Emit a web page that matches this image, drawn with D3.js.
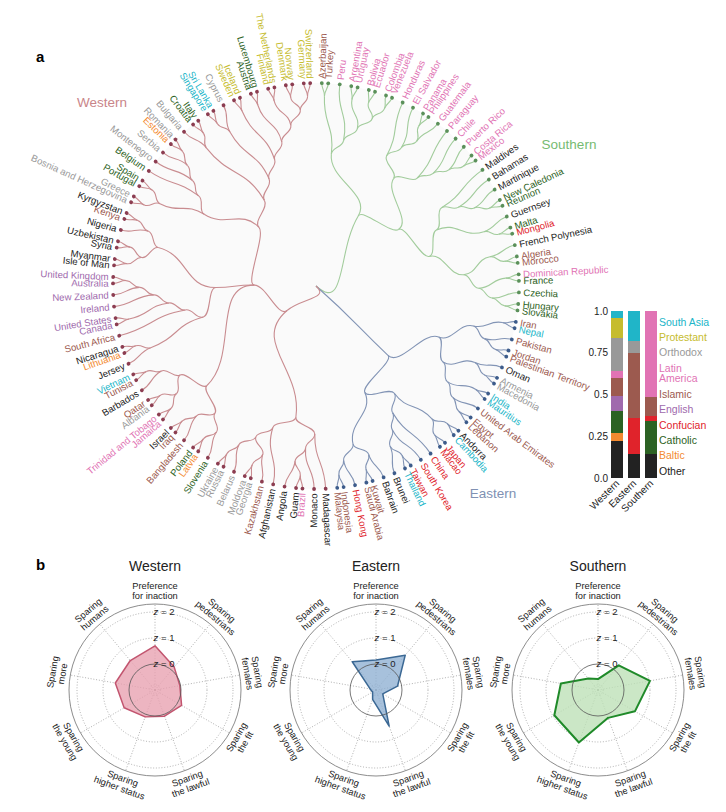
<!DOCTYPE html>
<html>
<head>
<meta charset="utf-8">
<script src="https://cdn.jsdelivr.net/npm/d3@7"></script>
<style>
  body { margin: 0; background: #fff; }
  svg text { font-family: "Liberation Sans", Arial, Helvetica, sans-serif; }
</style>
</head>
<body>
<svg id="chart" width="726" height="812"></svg>
<script>
// ---- dendrogram topology (clockwise leaf order) ----
var southernTree = [
    [["Azerbaijan", "Turkey"], ["Peru", [["Argentina", "Uruguay"], [["Bolivia", "Ecuador"], ["Colombia", "Venezuela"]]]]],
    [
        [["Honduras", ["El Salvador", [["Panama", "Philippines"], "Guatemala"]]], ["Paraguay", ["Chile", ["Puerto Rico", ["Costa Rica", "Mexico"]]]]],
        [[["Maldives", ["Bahamas", ["Martinique", ["New Caledonia", "Reunion"]]]], ["Guernsey", ["Malta", "Mongolia"]]],
         [["French Polynesia", ["Algeria", "Morocco"]], [["Dominican Republic", "France"], ["Czechia", ["Hungary", "Slovakia"]]]]]
    ]
];
var easternTree = [
    [[["Iran", "Nepal"], ["Pakistan", ["Jordan", "Palestinian Territory"]]],
     [["Oman", ["Armenia", "Macedonia"]], [["India", "Mauritius"], ["United Arab Emirates", ["Egypt", "Lebanon"]]]]],
    [[[["Andorra", "Cambodia"], ["Japan", "Macao"]], ["China", ["South Korea", [["Taiwan", "Thailand"], "Brunei"]]]],
     [["Bahrain", ["Kuwait", "Saudi Arabia"]], ["Hong Kong", ["Indonesia", "Malaysia"]]]]
];
var westernTree = [
    [["Madagascar", ["Monaco", [["Brazil", "Guam"], "Angola"]]], ["Afghanistan", [["Kazakhstan", ["Georgia", "Moldova"]], ["Belarus", ["Russia", "Ukraine"]]]]],
    [
        [[["Slovenia", ["Latvia", "Poland"]], ["Bangladesh", ["Iraq", "Israel"]]], [[["Jamaica", "Trinidad and Tobago"], ["Albania", "Qatar"]], ["Barbados", ["Tunisia", "Vietnam"]]]],
        [[["Jersey", ["Lithuania", "Nicaragua"]], ["South Africa", [["Canada", "United States"], ["Ireland", ["New Zealand", ["Australia", "United Kingdom"]]]]]], [[["Isle of Man", "Myanmar"], ["Syria", "Uzbekistan"]], ["Nigeria", ["Kenya", "Kyrgyzstan"]]]],
        [[[["Bosnia and Herzegovina", "Greece"], ["Portugal", "Spain"]], ["Belgium", ["Montenegro", ["Serbia", ["Estonia", "Romania"]]]]],
         [["Bulgaria", ["Croatia", "Italy"]], [[["Singapore", "Sri Lanka"], "Cyprus"], [["Sweden", "Iceland"], [["Austria", "Luxembourg"], [["Finland", "The Netherlands"], [["Denmark", "Norway"], ["Germany", "Switzerland"]]]]]]]]
    ]
];
var clusterNames = ["Southern", "Eastern", "Western"];

// ---- cultural groups ----
var groupNames = ["South Asia", "Protestant", "Orthodox", "Latin America", "Islamic", "English", "Confucian", "Catholic", "Baltic", "Other"];
var southAsia = ["Nepal", "India", "Mauritius", "Cambodia", "Thailand", "Vietnam", "Singapore", "Sri Lanka"];
var protestant = ["Sweden", "Iceland", "Finland", "The Netherlands", "Denmark", "Norway", "Germany", "Switzerland"];
var orthodox = ["Armenia", "Macedonia", "Georgia", "Moldova", "Belarus", "Russia", "Ukraine", "Albania", "Bosnia and Herzegovina", "Greece", "Montenegro", "Serbia", "Romania", "Bulgaria", "Cyprus"];
var latinAmerica = ["Peru", "Argentina", "Uruguay", "Bolivia", "Ecuador", "Colombia", "Venezuela", "Honduras", "El Salvador", "Panama", "Philippines", "Guatemala", "Paraguay", "Chile", "Puerto Rico", "Costa Rica", "Mexico", "Dominican Republic", "Brazil", "Jamaica", "Trinidad and Tobago"];
var islamic = ["Azerbaijan", "Turkey", "Algeria", "Morocco", "Iran", "Pakistan", "Jordan", "Palestinian Territory", "United Arab Emirates", "Egypt", "Lebanon", "Kuwait", "Saudi Arabia", "Indonesia", "Malaysia", "Kazakhstan", "Bangladesh", "Iraq", "Qatar", "Tunisia", "South Africa", "Kenya"];
var english = ["Canada", "United States", "Ireland", "New Zealand", "Australia", "United Kingdom"];
var confucian = ["Mongolia", "Japan", "Macao", "China", "South Korea", "Taiwan", "Hong Kong"];
var catholic = ["New Caledonia", "Reunion", "Malta", "France", "Czechia", "Hungary", "Slovakia", "Slovenia", "Poland", "Portugal", "Spain", "Belgium", "Croatia", "Italy", "Austria", "Luxembourg"];
var baltic = ["Latvia", "Lithuania", "Estonia"];
var other = ["Maldives", "Bahamas", "Martinique", "Guernsey", "French Polynesia", "Oman", "Andorra", "Brunei", "Bahrain", "Madagascar", "Monaco", "Guam", "Angola", "Afghanistan", "Israel", "Barbados", "Jersey", "Nicaragua", "Isle of Man", "Myanmar", "Syria", "Uzbekistan", "Nigeria", "Kyrgyzstan"];
var groupMembers = [southAsia, protestant, orthodox, latinAmerica, islamic, english, confucian, catholic, baltic, other];

// ---- bar chart ticks ----
var barClusters = ["Western", "Eastern", "Southern"];
var barTicks = [0, 0.25, 0.5, 0.75, 1];
var barTickLabels = ["0.0", "0.25", "0.5", "0.75", "1.0"];

// ---- radar (z-scores) ----
var radarAxes = [["Preference", "for inaction"], ["Sparing", "pedestrians"], ["Sparing", "females"], ["Sparing", "the fit"],
                 ["Sparing", "the lawful"], ["Sparing", "higher status"], ["Sparing", "the young"], ["Sparing", "more"], ["Sparing", "humans"]];
var radarTitles = ["Western", "Eastern", "Southern"];
var westernZ = [0.7, 0.15, -0.03, 0.18, 0.07, 0.1, 0.37, 0.55, 0.48];
var easternZ = [0.15, 0.75, -0.16, -0.7, 0.48, -0.62, -0.85, -0.77, 0.42];
var southernZ = [-0.58, 0.24, 1.03, 0.64, 0.14, 1.15, 0.94, 0.45, -0.42];
var radarRings = [-0.8, 1, 2];
var radarLabelRings = [2, 1, 0];

////////////////////////////////////////////////////////////////////////

var groupOf = {};
groupMembers.forEach(function(list, i) {
    list.forEach(function(c) { groupOf[c] = groupNames[i]; });
});
var groupColor = d3.scaleOrdinal()
    .domain(groupNames)
    .range(["#20b5c8", "#c6bc2e", "#999999", "#e173b4", "#9c5a4f", "#a06aad", "#e0232b", "#2c6223", "#f38a30", "#222222"]);
var linkColor = {Western: "#c98c90", Southern: "#a2cc9c", Eastern: "#8294b5"};
var dotColor = {Western: "#8c3d51", Southern: "#5b905a", Eastern: "#3d5c8b"};
var clusterText = {Western: "#c98589", Southern: "#76bb72", Eastern: "#8091b3"};

var svg = d3.select("#chart");

svg.append("text").attr("x", 36).attr("y", 62).attr("font-size", 15).attr("font-weight", "bold").text("a");
svg.append("text").attr("x", 36).attr("y", 570).attr("font-size", 15).attr("font-weight", "bold").text("b");

// ---------- a: circular dendrogram ----------
var cx = 316, cy = 286, R = 203;
var dendro = svg.append("g").attr("transform", "translate(" + cx + "," + cy + ")");
dendro.append("circle").attr("r", R).attr("fill", "#fafafa");

var root = d3.hierarchy([southernTree, easternTree, westernTree], function(d) {
    return Array.isArray(d) ? d : null;
});
d3.cluster()
    .size([360, R])
    .separation(function(a, b) { return a.parent === b.parent ? 1 : 1.8; })(root);

var radius = d3.scalePow().exponent(0.7).domain([0, 1]).range([0, R]);
root.each(function(n) { n.r = radius(1 - n.height / root.height); });
root.children.forEach(function(c, i) {
    c.each(function(n) { n.cluster = clusterNames[i]; });
});

var link = d3.linkRadial()
    .angle(function(d) { return d.x * Math.PI / 180; })
    .radius(function(d) { return d.r; });

dendro.selectAll(".link")
    .data(root.links())
    .enter().append("path")
    .attr("class", "link")
    .attr("d", link)
    .attr("fill", "none")
    .attr("stroke", function(d) { return linkColor[d.target.cluster]; })
    .attr("stroke-width", 1.1);

dendro.selectAll(".leaf")
    .data(root.leaves())
    .enter().append("circle")
    .attr("class", "leaf")
    .attr("transform", function(d) { return "rotate(" + (d.x - 90) + ") translate(" + d.r + ",0)"; })
    .attr("r", 1.9)
    .attr("fill", function(d) { return dotColor[d.cluster]; });

dendro.selectAll(".name")
    .data(root.leaves())
    .enter().append("text")
    .attr("class", "name")
    .attr("transform", function(d) {
        return "rotate(" + (d.x - 90) + ") translate(" + (d.r + 4.5) + ",0)" + (d.x < 180 ? "" : " rotate(180)");
    })
    .attr("text-anchor", function(d) { return d.x < 180 ? "start" : "end"; })
    .attr("dy", "0.35em")
    .attr("font-size", 9.6)
    .attr("fill", function(d) { return groupColor(groupOf[d.data]); })
    .text(function(d) { return d.data; });

svg.append("text").attr("x", 102).attr("y", 107).attr("text-anchor", "middle")
    .attr("font-size", 13.5).attr("fill", clusterText.Western).text("Western");
svg.append("text").attr("x", 569).attr("y", 149).attr("text-anchor", "middle")
    .attr("font-size", 13.5).attr("fill", clusterText.Southern).text("Southern");
svg.append("text").attr("x", 493).attr("y", 498).attr("text-anchor", "middle")
    .attr("font-size", 13.5).attr("fill", clusterText.Eastern).text("Eastern");

// ---------- stacked bar of cultural groups ----------
var rows = barClusters.map(function(name) {
    var leaves = root.children[clusterNames.indexOf(name)].leaves();
    var row = {cluster: name};
    groupNames.forEach(function(g) {
        row[g] = leaves.filter(function(l) { return groupOf[l.data] === g; }).length / leaves.length;
    });
    return row;
});
var series = d3.stack().keys(groupNames.slice().reverse())(rows);

var bx = d3.scaleBand().domain(barClusters).range([611, 657]).paddingInner(0.3).paddingOuter(0);
var by = d3.scaleLinear().domain([0, 1]).range([478, 311]);

svg.append("g").selectAll("g")
    .data(series)
    .enter().append("g")
    .attr("fill", function(d) { return groupColor(d.key); })
    .selectAll("rect")
    .data(function(d) { return d; })
    .enter().append("rect")
    .attr("x", function(d) { return bx(d.data.cluster); })
    .attr("width", bx.bandwidth())
    .attr("y", function(d) { return by(d[1]); })
    .attr("height", function(d) { return by(d[0]) - by(d[1]); })
    .attr("shape-rendering", "crispEdges");

var yAxis = svg.append("g")
    .attr("transform", "translate(609,0)")
    .call(d3.axisLeft(by).tickValues(barTicks)
        .tickFormat(function(d, i) { return barTickLabels[i]; })
        .tickSize(0).tickPadding(1));
yAxis.select(".domain").remove();
yAxis.selectAll("text").attr("font-size", 10).attr("fill", "#222");

svg.selectAll(".barlab")
    .data(barClusters)
    .enter().append("text")
    .attr("class", "barlab")
    .attr("transform", function(d) { return "translate(" + (bx(d) + bx.bandwidth() / 2 + 3) + ",484) rotate(-45)"; })
    .attr("text-anchor", "end")
    .attr("font-size", 10)
    .attr("fill", "#222")
    .text(function(d) { return d; });

groupNames.forEach(function(g, i) {
    var y = 322 + i * 15.4 + (i > 3 ? 10.6 : 0);
    var t = svg.append("text")
        .attr("x", 659).attr("y", y).attr("dy", "0.35em")
        .attr("font-size", 10.5)
        .attr("fill", groupColor(g));
    if (g === "Latin America") {
        t.append("tspan").text("Latin");
        t.append("tspan").attr("x", 659).attr("dy", 10.6).text("America");
    } else {
        t.text(g);
    }
});

// ---------- b: radar plots ----------
var radarValues = [westernZ, easternZ, southernZ];
var radarStyle = [
    {fill: "#e8a0af", stroke: "#c2556f", width: 1.5},
    {fill: "#8eafd2", stroke: "#3b6894", width: 1.5},
    {fill: "#bde0b6", stroke: "#1f8a29", width: 2}
];
var radarX = [155, 376, 598], radarY = 690, outerR = 86;
var rz = d3.scaleLinear().domain([-1, 2]).range([0, 78]);
var step = 2 * Math.PI / radarAxes.length;

radarTitles.forEach(function(title, k) {
    var g = svg.append("g").attr("transform", "translate(" + radarX[k] + "," + radarY + ")");

    svg.append("text").attr("x", radarX[k]).attr("y", 566).attr("dy", "0.35em")
        .attr("text-anchor", "middle").attr("font-size", 14).attr("fill", "#222").text(title);

    g.selectAll(".spoke")
        .data(radarAxes)
        .enter().append("line")
        .attr("x2", function(d, i) { return d3.pointRadial(i * step, outerR)[0]; })
        .attr("y2", function(d, i) { return d3.pointRadial(i * step, outerR)[1]; })
        .attr("stroke", "#9a9a9a").attr("stroke-width", 0.8).attr("stroke-dasharray", "1,1.8");

    g.selectAll(".ring")
        .data(radarRings)
        .enter().append("circle")
        .attr("r", function(d) { return rz(d); })
        .attr("fill", "none")
        .attr("stroke", "#9a9a9a").attr("stroke-width", 0.8).attr("stroke-dasharray", "1,1.8");

    g.append("circle").attr("r", outerR).attr("fill", "none").attr("stroke", "#6e6e6e").attr("stroke-width", 0.8);

    var shape = d3.lineRadial()
        .angle(function(d, i) { return i * step; })
        .radius(function(d) { return rz(d); })
        .curve(d3.curveLinearClosed);
    g.append("path")
        .attr("d", shape(radarValues[k]))
        .attr("fill", radarStyle[k].fill).attr("fill-opacity", 0.78)
        .attr("stroke", radarStyle[k].stroke).attr("stroke-width", radarStyle[k].width)
        .attr("stroke-linejoin", "round");

    g.append("circle").attr("r", rz(0)).attr("fill", "none").attr("stroke", "#555").attr("stroke-width", 0.8);

    radarLabelRings.forEach(function(z) {
        var t = g.append("text").attr("x", 9).attr("y", -rz(z)).attr("dy", "0.35em")
            .attr("text-anchor", "middle").attr("font-size", 9.5).attr("fill", "#222");
        t.append("tspan").attr("font-style", "italic").text("z");
        t.append("tspan").text(" = " + z);
    });

    radarAxes.forEach(function(lines, i) {
        var a = i * 360 / radarAxes.length;
        var top = a <= 90 || a >= 270;
        var rot = top ? (a > 180 ? a - 360 : a) : a - 180;
        var radii = top ? [104, 94] : [94, 104];
        lines.forEach(function(line, j) {
            var p = d3.pointRadial(a * Math.PI / 180, radii[j]);
            g.append("text")
                .attr("transform", "translate(" + p[0] + "," + p[1] + ") rotate(" + rot + ")")
                .attr("text-anchor", "middle").attr("dy", "0.35em")
                .attr("font-size", 9.3).attr("fill", "#222")
                .text(line);
        });
    });
});
</script>
</body>
</html>
